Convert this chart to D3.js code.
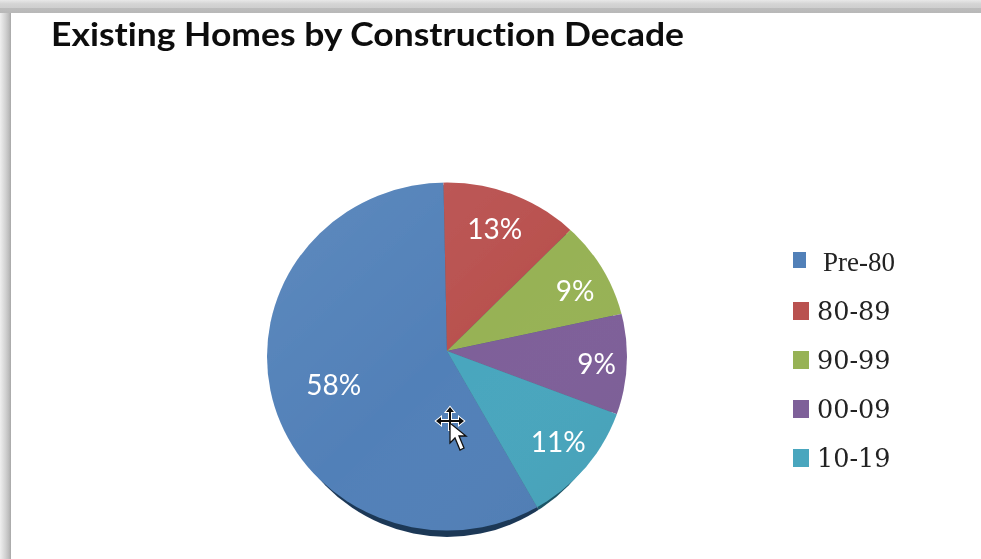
<!DOCTYPE html>
<html>
<head>
<meta charset="utf-8">
<title>Existing Homes by Construction Decade</title>
<script src="https://cdn.jsdelivr.net/npm/d3@7"></script>
<style>
    html, body { margin: 0; padding: 0; background: #fff; }
    svg { display: block; }
</style>
</head>
<body>
<svg id="chart" width="981" height="559"></svg>
<script>
// ------------------DATA------------------
const categories = ["Pre-80", "80-89", "90-99", "00-09", "10-19"];
const shares = [58, 13, 9, 9, 11];
const titleText = "Existing Homes by Construction Decade";

// ------------------COLOURS------------------
const colors = ["#5180b8", "#b9514f", "#97b255", "#7e6099", "#49a6be"];
const edgeColors = ["#1d3857", "#1d3857", "#1d3857", "#1d3857", "#1f5566"];

// ------------------LAYOUT------------------
const svg = d3.select("#chart");
const apex = { x: 447, y: 351 };          // point where the slices meet
const disc = { cx: 447, cy: 356.5, rx: 180, ry: 174 };
const rimDisc = { cx: 447, cy: 361, rx: 172, ry: 176 };
const labelRadius = [118, 132, 142, 150, 143];
const labelTurn = [-0.7, -1, 2.6, 0.4, -1.2];  // degrees off the middle of the slice

const color = d3.scaleOrdinal(categories, colors);
const edgeColor = d3.scaleOrdinal(categories, edgeColors);

const defs = svg.append("defs");

function linearGradient(id, x1, y1, x2, y2, stops) {
    const g = defs.append("linearGradient").attr("id", id)
        .attr("x1", x1).attr("y1", y1).attr("x2", x2).attr("y2", y2);
    stops.forEach(s => g.append("stop")
        .attr("offset", s[0]).attr("stop-color", s[1]).attr("stop-opacity", s[2] === undefined ? 1 : s[2]));
}

function ellipseClip(id, e) {
    defs.append("clipPath").attr("id", id).append("ellipse")
        .attr("cx", e.cx).attr("cy", e.cy).attr("rx", e.rx).attr("ry", e.ry);
}

linearGradient("frameTop", 0, 0, 0, 1, [[0, "#e8e8e8"], [0.3, "#d4d4d4"], [0.6, "#cfcfcf"], [0.65, "#bcbcbc"], [1, "#b8b8b8"]]);
linearGradient("frameLeft", 0, 0, 1, 0, [[0, "#efefef"], [0.5, "#d2d2d2"], [0.8, "#bdbdbd"], [1, "#a8a8a8"]]);
linearGradient("sheen", 0, 0, 1, 1, [[0, "#fff", 0.08], [0.5, "#fff", 0], [1, "#000", 0.05]]);

ellipseClip("discClip", disc);
ellipseClip("rimClip", rimDisc);
defs.append("filter").attr("id", "soft").append("feGaussianBlur").attr("stdDeviation", 0.5);

// ------------------FRAME------------------
svg.append("rect").attr("x", 0).attr("y", 0).attr("width", 11).attr("height", 559).attr("fill", "url(#frameLeft)");
svg.append("rect").attr("x", 0).attr("y", 0).attr("width", 981).attr("height", 13).attr("fill", "url(#frameTop)");

// ------------------TITLE------------------
svg.append("text")
    .attr("x", 51)
    .attr("y", 46)
    .attr("textLength", 633)
    .attr("lengthAdjust", "spacingAndGlyphs")
    .attr("font-family", "Lato, 'Open Sans', sans-serif")
    .attr("font-weight", 700)
    .attr("font-size", 32)
    .attr("fill", "#111")
    .attr("filter", "url(#soft)")
    .style("font-variant-ligatures", "none")
    .text(titleText);

// ------------------PIE------------------
// the first slice starts low on the right and runs clockwise
const pie = d3.pie().sort(null)
    .startAngle(150 * Math.PI / 180)
    .endAngle(510 * Math.PI / 180);
const arcs = pie(shares);
const wedge = d3.arc().innerRadius(0).outerRadius(300);

// dark rim under the disc
const rim = svg.append("g").attr("filter", "url(#soft)")
    .append("g").attr("clip-path", "url(#rimClip)")
    .append("g").attr("transform", `translate(${apex.x},${apex.y})`);
rim.selectAll("path").data(arcs).join("path")
    .attr("d", wedge)
    .attr("fill", (d, i) => edgeColor(categories[i]));

const face = svg.append("g").attr("filter", "url(#soft)")
    .append("g").attr("clip-path", "url(#discClip)");
face.append("g").attr("transform", `translate(${apex.x},${apex.y})`)
    .selectAll("path").data(arcs).join("path")
    .attr("d", wedge)
    .attr("fill", (d, i) => color(categories[i]));
face.append("ellipse")
    .attr("cx", disc.cx).attr("cy", disc.cy).attr("rx", disc.rx).attr("ry", disc.ry)
    .attr("fill", "url(#sheen)");

// slice labels
function labelAngle(d, i) {
    return (d.startAngle + d.endAngle) / 2 + labelTurn[i] * Math.PI / 180;
}

svg.append("g").selectAll("text").data(arcs).join("text")
    .attr("x", (d, i) => apex.x + labelRadius[i] * Math.sin(labelAngle(d, i)))
    .attr("y", (d, i) => apex.y - labelRadius[i] * Math.cos(labelAngle(d, i)))
    .attr("dy", "0.4em")
    .attr("text-anchor", "middle")
    .attr("font-family", "Lato, 'Open Sans', sans-serif")
    .attr("font-size", 28)
    .attr("fill", "#fff")
    .attr("filter", "url(#soft)")
    .text(d => d.data + "%");

// ------------------LEGEND------------------
const legendY = d3.scalePoint().domain(categories).range([262, 458]);
const legend = svg.append("g").attr("filter", "url(#soft)")
    .selectAll("g").data(categories).join("g")
    .attr("transform", d => `translate(0,${legendY(d)})`);

legend.append("rect")
    .attr("x", 793)
    .attr("y", (d, i) => i == 0 ? -10 : -9)
    .attr("width", (d, i) => i == 0 ? 13 : 16)
    .attr("height", (d, i) => i == 0 ? 16 : 18)
    .attr("fill", d => color(d));

legend.append("text")
    .attr("x", (d, i) => i == 0 ? 823 : 817)
    .attr("dy", "0.34em")
    .attr("font-family", (d, i) => i == 0 ? "'Liberation Serif', serif" : "'DejaVu Serif', serif")
    .attr("font-size", (d, i) => i == 0 ? 27 : 25.5)
    .attr("fill", "#222")
    .text(d => d);

// ------------------MOUSE CURSOR------------------
const cursor = svg.append("g").attr("transform", "translate(450,421)").attr("filter", "url(#soft)");
cursor.append("path")
    .attr("d", "M0,-14 L4,-9 L1,-9 L1,-1 L9,-1 L9,-4 L14,0 L9,4 L9,1 L1,1 L1,9 L-1,9 L-1,1 L-9,1 L-9,4 L-14,0 L-9,-4 L-9,-1 L-1,-1 L-1,-9 L-4,-9 Z")
    .attr("fill", "#111")
    .attr("stroke", "#fff")
    .attr("stroke-width", 2)
    .attr("paint-order", "stroke");
cursor.append("path")
    .attr("d", "M0,2 L0,22 L5,17 L10,29 L14,27 L9,15 L16,15 Z")
    .attr("fill", "#fff")
    .attr("stroke", "#111")
    .attr("stroke-width", 1.3);
</script>
</body>
</html>
